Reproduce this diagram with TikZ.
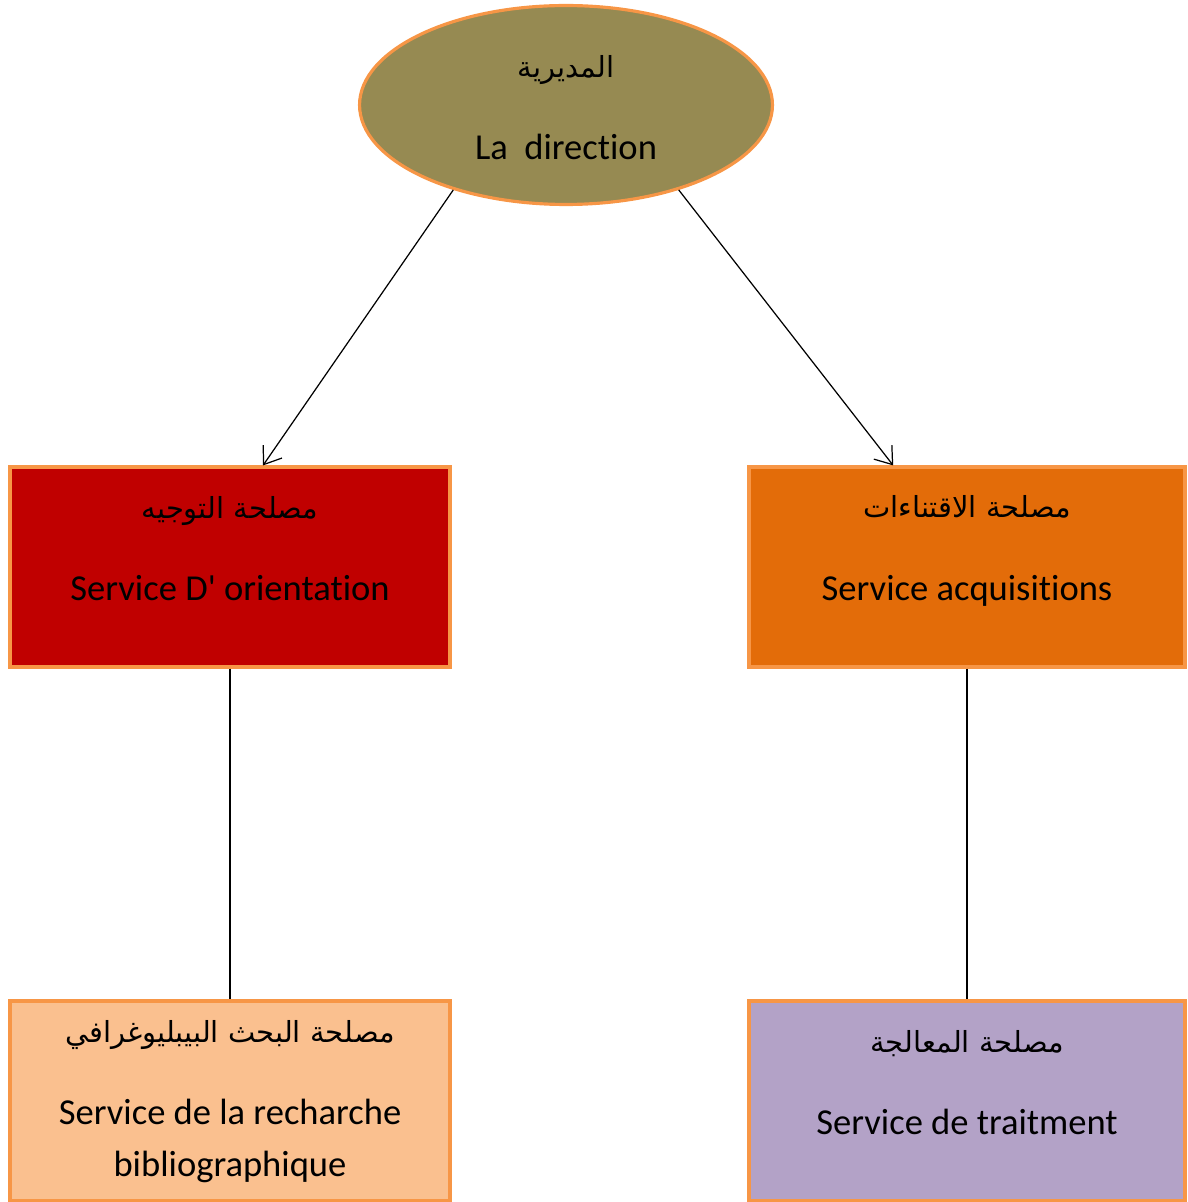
\documentclass[tikz,border=0pt]{standalone}
\usepackage{fontspec}
\setmainfont{Carlito}[Ligatures={TeXOff,CommonOff}]
\newfontfamily\arabicfont[Script=Arabic]{DejaVu Sans}
\TeXXeTstate=1
\usetikzlibrary{shapes.geometric,arrows.meta}
\definecolor{rim}{HTML}{F79646}
\definecolor{olive}{HTML}{968A52}
\definecolor{darkred}{HTML}{C00000}
\definecolor{darkorange}{HTML}{E36C09}
\definecolor{peach}{HTML}{FAC08F}
\definecolor{lavender}{HTML}{B3A2C7}
\begin{document}
\begin{tikzpicture}[x=0.02cm,y=-0.02cm,
    box/.style={draw=rim,line width=1.8pt,minimum height=4cm,inner sep=0pt},
    artext/.style={anchor=base,font=\arabicfont\fontsize{16.5}{19}\selectfont},
    latext/.style={anchor=base,font=\fontsize{20.8}{24}\selectfont},
    link/.style={line width=0.7pt}]
                \useasboundingbox (0,0) rectangle (1187,1202);
                \node[ellipse,draw=rim,line width=1.8pt,fill=olive,minimum width=8.26cm,minimum height=3.98cm] (dir) at (566,105) {};
                \node[box,fill=darkred,minimum width=8.8cm] (orient) at (230,567) {};
                \node[box,fill=darkorange,minimum width=8.72cm] (acq) at (967,567) {};
                \node[box,fill=peach,minimum width=8.8cm] (biblio) at (230,1101) {};
                \node[box,fill=lavender,minimum width=8.72cm] (trait) at (967,1101) {};
                \node[artext] (dirar) at (566,78) {\beginR المديرية\endR};
                \node[latext] (dirla) at (566,160) {La\ \ direction};
                \node[artext] (orientar) at (230,518) {\beginR مصلحة التوجيه\endR};
                \node[latext] (orientla) at (230,600) {Service D' orientation};
                \node[artext] (acqar) at (967,517) {\beginR مصلحة الاقتناءات\endR};
                \node[latext] (acqla) at (967,600) {Service acquisitions};
                \node[artext] (biblioar) at (230,1042) {\beginR مصلحة البحث البيبليوغرافي\endR};
                \node[latext] (bibliola) at (230,1124) {Service de la recharche};
                \node[latext] (bibliolb) at (230,1176) {bibliographique};
                \node[artext] (traitar) at (967,1052) {\beginR مصلحة المعالجة\endR};
                \node[latext] (traitla) at (967,1134) {Service de traitment};
                \draw[link,-{Straight Barb[length=9pt,width=13pt]}] (dir.217) -- (orient.72);
                \draw[link,-{Straight Barb[length=9pt,width=13pt]}] (dir.323) -- (acq.126);
                \draw[link] (orient.south) -- (biblio.north);
                \draw[link] (acq.south) -- (trait.north);
\end{tikzpicture}
\end{document}
